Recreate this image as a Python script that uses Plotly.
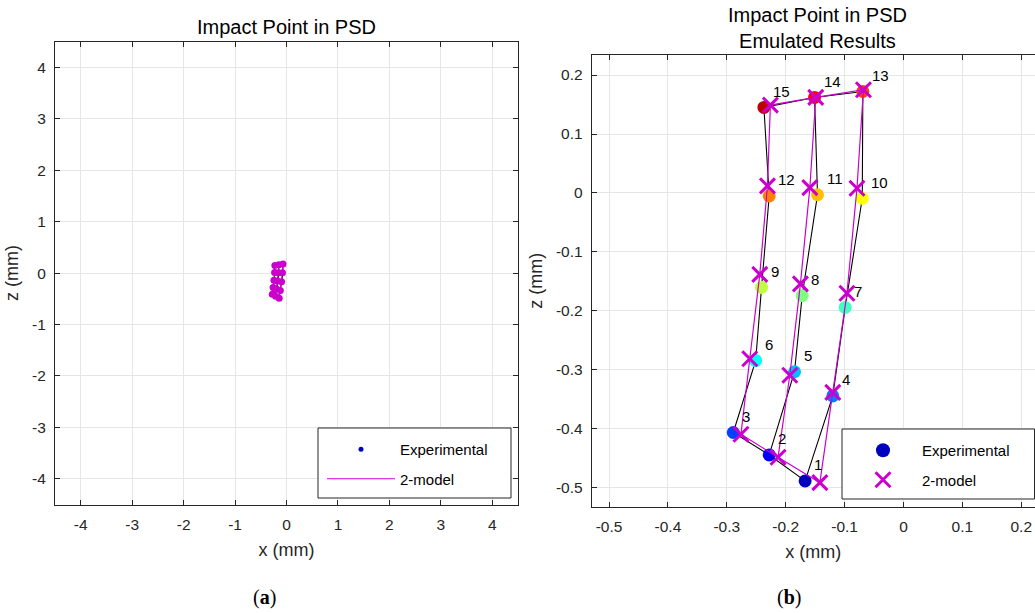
import plotly.graph_objects as go

W, H = 1035, 613

# ---------------- data ----------------
point_labels = ["1", "2", "3", "4", "5", "6", "7", "8", "9", "10", "11", "12", "13", "14", "15"]
exp_x = [-0.167, -0.228, -0.289, -0.120, -0.185, -0.251, -0.099, -0.172, -0.241,
         -0.070, -0.146, -0.228, -0.069, -0.151, -0.237]
exp_z = [-0.488, -0.444, -0.406, -0.344, -0.303, -0.284, -0.194, -0.174, -0.160,
         -0.009, -0.003, -0.005, 0.172, 0.162, 0.145]
model_x = [-0.142, -0.213, -0.276, -0.120, -0.193, -0.261, -0.096, -0.175, -0.244,
           -0.079, -0.159, -0.231, -0.068, -0.149, -0.226]
model_z = [-0.491, -0.448, -0.409, -0.338, -0.309, -0.281, -0.170, -0.154, -0.138,
           0.008, 0.009, 0.012, 0.175, 0.162, 0.149]
point_colors = ["#0000BF", "#0000FF", "#0040FF", "#0080FF", "#00BFFF", "#00FFFF",
                "#40FFBF", "#80FF80", "#BFFF40", "#FFFF00", "#FFBF00", "#FF8000",
                "#FF4000", "#FF0000", "#BF0000"]
# grid connectivity (indices into the point lists)
path_outer = [0, 3, 6, 9, 12, 13, 14, 11, 8, 5, 2, 1, 0]
path_middle = [1, 4, 7, 10, 13]

left_ticks = [-4, -3, -2, -1, 0, 1, 2, 3, 4]
left_ticklabels = ["-4", "-3", "-2", "-1", "0", "1", "2", "3", "4"]
right_xticks = [-0.5, -0.4, -0.3, -0.2, -0.1, 0, 0.1, 0.2]
right_xticklabels = ["-0.5", "-0.4", "-0.3", "-0.2", "-0.1", "0", "0.1", "0.2"]
right_yticks = [-0.5, -0.4, -0.3, -0.2, -0.1, 0, 0.1, 0.2]
right_yticklabels = ["-0.5", "-0.4", "-0.3", "-0.2", "-0.1", "0", "0.1", "0.2"]


def path_xy(xs, ys):
    px, py = [], []
    for seg in (path_outer, path_middle):
        px += [xs[i] for i in seg] + [None]
        py += [ys[i] for i in seg] + [None]
    return px, py


FONT = "Liberation Sans, Arial, sans-serif"
AX = "#262626"
GRID = "#E6E6E6"
MAG = "#CC00CC"
NAVY = "#0000BF"

fig = go.Figure()

ex_px, ex_py = path_xy(exp_x, exp_z)
mo_px, mo_py = path_xy(model_x, model_z)

# ---------------- left subplot (a) ----------------
fig.add_trace(go.Scatter(x=ex_px, y=ex_py, mode="lines", line=dict(color="black", width=1),
                         showlegend=False, hoverinfo="skip", xaxis="x", yaxis="y"))
fig.add_trace(go.Scatter(x=exp_x, y=exp_z, mode="markers",
                         marker=dict(color=point_colors, size=4), showlegend=False,
                         xaxis="x", yaxis="y"))
fig.add_trace(go.Scatter(x=[None], y=[None], mode="markers", name="Experimental",
                         marker=dict(color=NAVY, size=5), legend="legend",
                         legendgroup="a1", xaxis="x", yaxis="y"))
fig.add_trace(go.Scatter(x=mo_px, y=mo_py, mode="lines", name="2-model",
                         line=dict(color=MAG, width=1.2), legend="legend",
                         legendgroup="a2", xaxis="x", yaxis="y"))
fig.add_trace(go.Scatter(x=model_x, y=model_z, mode="markers",
                         marker=dict(color=MAG, size=7), showlegend=False,
                         xaxis="x", yaxis="y"))

# ---------------- right subplot (b) ----------------
fig.add_trace(go.Scatter(x=ex_px, y=ex_py, mode="lines", line=dict(color="black", width=1.1),
                         showlegend=False, hoverinfo="skip", xaxis="x2", yaxis="y2"))
fig.add_trace(go.Scatter(x=exp_x, y=exp_z, mode="markers",
                         marker=dict(color=point_colors, size=13), showlegend=False,
                         xaxis="x2", yaxis="y2"))
fig.add_trace(go.Scatter(x=[None], y=[None], mode="markers", name="Experimental",
                         marker=dict(color=NAVY, size=14), legend="legend2",
                         legendgroup="b1", xaxis="x2", yaxis="y2"))
fig.add_trace(go.Scatter(x=mo_px, y=mo_py, mode="lines", line=dict(color=MAG, width=1.2),
                         showlegend=False, hoverinfo="skip", xaxis="x2", yaxis="y2"))
fig.add_trace(go.Scatter(x=model_x, y=model_z, mode="markers", name="2-model",
                         marker=dict(symbol="x-thin", size=15, line=dict(color=MAG, width=3)),
                         legend="legend2", legendgroup="b2", xaxis="x2", yaxis="y2"))

annotations = []
for lbl, xv, zv in zip(point_labels, exp_x, exp_z):
    annotations.append(dict(x=xv, y=zv, xref="x2", yref="y2", text=lbl, showarrow=False,
                            xanchor="left", yanchor="middle", xshift=7, yshift=16,
                            font=dict(family=FONT, size=15, color="black")))

# titles
annotations.append(dict(x=286.5 / W, y=1 - 27 / H, xref="paper", yref="paper",
                        text="Impact Point in PSD", showarrow=False,
                        xanchor="center", yanchor="middle",
                        font=dict(family=FONT, size=20, color="black")))
annotations.append(dict(x=817 / W, y=1 - 28 / H, xref="paper", yref="paper",
                        text="Impact Point in PSD<br>Emulated Results", showarrow=False,
                        xanchor="center", yanchor="middle",
                        font=dict(family=FONT, size=20, color="black")))
# captions
annotations.append(dict(x=264 / W, y=1 - 597 / H, xref="paper", yref="paper",
                        text="(<b>a</b>)", showarrow=False, xanchor="center", yanchor="middle",
                        font=dict(family="Liberation Serif, DejaVu Serif, serif", size=20, color="black")))
annotations.append(dict(x=789 / W, y=1 - 597 / H, xref="paper", yref="paper",
                        text="(<b>b</b>)", showarrow=False, xanchor="center", yanchor="middle",
                        font=dict(family="Liberation Serif, DejaVu Serif, serif", size=20, color="black")))

# legend boxes
shapes = [
    dict(type="rect", xref="paper", yref="paper", x0=318 / W, x1=511 / W,
         y0=1 - 498 / H, y1=1 - 428 / H, line=dict(color=AX, width=1),
         fillcolor="white", layer="above"),
    dict(type="rect", xref="paper", yref="paper", x0=842 / W, x1=1034.5 / W,
         y0=1 - 499 / H, y1=1 - 429 / H, line=dict(color=AX, width=1),
         fillcolor="white", layer="above"),
]

axis_common = dict(showgrid=True, gridcolor=GRID, gridwidth=1, zeroline=False,
                   showline=True, linecolor=AX, linewidth=1, ticks="inside", ticklen=5,
                   tickcolor=AX, tickfont=dict(family=FONT, size=15.5, color=AX))
xtitle = dict(text="x (mm)", font=dict(family=FONT, size=18, color=AX), standoff=11)
ytitle = dict(text="z (mm)", font=dict(family=FONT, size=18, color=AX), standoff=8)

fig.update_layout(
    width=W, height=H,
    margin=dict(l=0, r=0, t=0, b=0),
    paper_bgcolor="white", plot_bgcolor="white",
    showlegend=True,
    xaxis=dict(domain=[55 / W, 518 / W], range=[-4.5, 4.5], tickvals=left_ticks,
               ticktext=left_ticklabels, anchor="y", mirror="ticks", ticklabelstandoff=6,
               title=xtitle, **axis_common),
    yaxis=dict(domain=[1 - 504.5 / H, 1 - 41.7 / H], range=[-4.5, 4.5], tickvals=left_ticks,
               ticktext=left_ticklabels, anchor="x", mirror="ticks", ticklabelstandoff=5,
               title=ytitle, **axis_common),
    xaxis2=dict(domain=[591.7 / W, 1.0], range=[-0.5294, 0.2233], tickvals=right_xticks,
                ticktext=right_xticklabels, anchor="y2", mirror="ticks", ticklabelstandoff=6,
                title=xtitle, **axis_common),
    yaxis2=dict(domain=[1 - 506.5 / H, 1 - 55 / H], range=[-0.5314, 0.2339],
                tickvals=right_yticks, ticktext=right_yticklabels, anchor="x2", mirror=False,
                ticklabelstandoff=5, title=ytitle, **axis_common),
    legend=dict(x=322 / W, y=1 - 433 / H, xanchor="left", yanchor="top",
                bgcolor="rgba(0,0,0,0)", borderwidth=0, itemwidth=68, tracegroupgap=7,
                font=dict(family=FONT, size=15, color="black")),
    legend2=dict(x=844 / W, y=1 - 434 / H, xanchor="left", yanchor="top",
                 bgcolor="rgba(0,0,0,0)", borderwidth=0, itemwidth=68, tracegroupgap=7,
                 font=dict(family=FONT, size=15, color="black")),
    annotations=annotations,
    shapes=shapes,
)

fig.write_html("out.html", post_script="document.body.style.margin='0';",
               config={"displayModeBar": False})
